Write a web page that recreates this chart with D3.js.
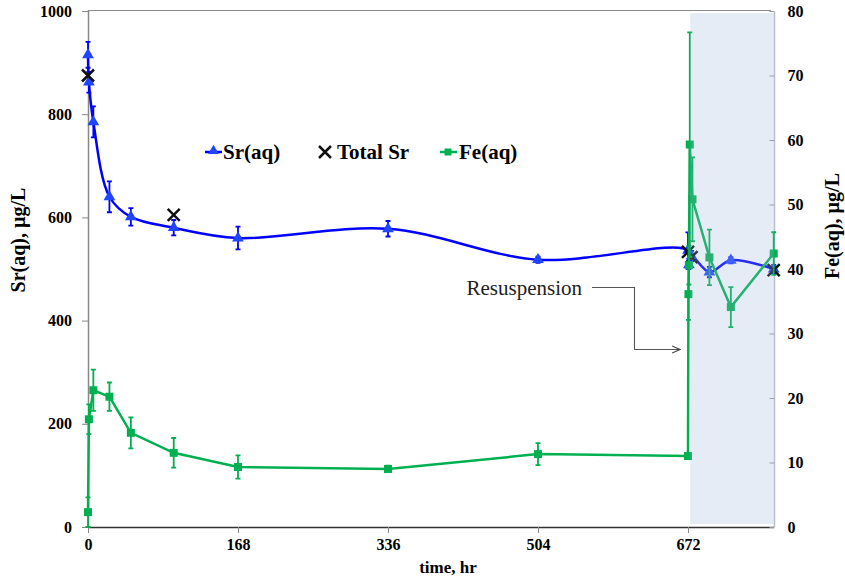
<!DOCTYPE html>
<html>
<head>
<meta charset="utf-8">
<script src="https://cdn.jsdelivr.net/npm/d3@7"></script>
<style>
  body { margin: 0; background: #fff; }
  svg text { font-family: "Times New Roman", "Liberation Serif", "DejaVu Serif", serif; }
</style>
</head>
<body>
<div id="chart"></div>
<script>
// Sr(aq), left axis
const srTime = [0, 1, 6, 24, 48, 96, 168, 336, 504, 672, 673, 676, 696, 720, 768]
const srVal = [915, 862, 785, 640, 601, 580, 560, 578, 518, 536, 508, 525, 494, 517, 500]
const srErr = [25, 20, 30, 30, 17, 15, 22, 15, 6, 35, 8, 10, 10, 6, 8]

// Total Sr, left axis
const totTime = [0, 96, 672, 676, 768]
const totVal = [875, 605, 533, 523, 498]

// Fe(aq), right axis
const feTime = [0, 1, 6, 24, 48, 96, 168, 336, 504, 672, 672.5, 673, 674, 677, 696, 720, 768]
const feVal = [2.3, 16.7, 21.2, 20.2, 14.6, 11.5, 9.3, 9.0, 11.3, 11.0, 36.1, 40.6, 59.3, 50.8, 41.8, 34.1, 42.4]
const feErr = [2.3, 2.3, 3.2, 2.2, 2.4, 2.3, 1.8, 0.5, 1.7, 0.4, 4, 3, 17.4, 6.5, 4.3, 3.1, 3.3]

const xTicks = [0, 168, 336, 504, 672]
const leftTicks = [0, 200, 400, 600, 800, 1000]
const rightTicks = [0, 10, 20, 30, 40, 50, 60, 70, 80]

const width = 845
const height = 579
const blue = "#0000ff"
const blueMark = "#1f45ff"
const green = "#00b050"
const serif = "'Times New Roman', 'Liberation Serif', 'DejaVu Serif', serif"

const svg = d3.select("#chart").append("svg")
  .attr("width", width)
  .attr("height", height)
  .attr("font-family", serif)

const x = d3.scaleLinear().domain([0, 768]).range([88, 773.7])
const yL = d3.scaleLinear().domain([0, 1000]).range([527, 11])
const yR = d3.scaleLinear().domain([0, 80]).range([527, 11])

// frame
svg.append("line").attr("x1", 88).attr("x2", 771).attr("y1", 10.5).attr("y2", 10.5)
  .attr("stroke", "#8a8a8a").attr("stroke-width", 1.2)
svg.append("line").attr("x1", 774.5).attr("x2", 774.5).attr("y1", 12).attr("y2", 527)
  .attr("stroke", "#b8bfcc").attr("stroke-width", 1.5)

// axes
const xAxis = svg.append("g")
  .attr("transform", "translate(0,527)")
  .call(d3.axisBottom(x).tickValues(xTicks).tickSize(6).tickPadding(6).tickFormat(d3.format("d")))
xAxis.select(".domain").attr("d", "M88,0.5H774").attr("stroke", "#333").attr("stroke-width", 1.5)
xAxis.selectAll(".tick line").attr("stroke", "#888")

const yAxisL = svg.append("g")
  .attr("transform", "translate(88,0)")
  .call(d3.axisLeft(yL).tickValues(leftTicks).tickSize(6).tickPadding(10).tickFormat(d3.format("d")))
yAxisL.select(".domain").attr("d", "M0.5,10V527").attr("stroke", "#888").attr("stroke-width", 1.5)
yAxisL.selectAll(".tick line").attr("stroke", "#888")

const yAxisR = svg.append("g")
  .attr("transform", "translate(774.5,0)")
  .call(d3.axisRight(yR).tickValues(rightTicks).tickSize(0).tickPadding(13).tickFormat(d3.format("d")))
yAxisR.select(".domain").remove()
yAxisR.selectAll(".tick").append("line").attr("x1", -5).attr("x2", 0).attr("stroke", "#999")

svg.selectAll("g").attr("font-family", serif)
svg.selectAll(".tick text")
  .attr("font-size", 16)
  .attr("font-weight", "bold")
  .attr("fill", "#000")

// axis titles
svg.append("text")
  .attr("transform", "translate(25,240) rotate(-90)")
  .attr("text-anchor", "middle")
  .attr("font-size", 20).attr("font-weight", "bold")
  .text("Sr(aq), µg/L")
svg.append("text")
  .attr("transform", "translate(839,226) rotate(-90)")
  .attr("text-anchor", "middle")
  .attr("font-size", 20).attr("font-weight", "bold")
  .text("Fe(aq), µg/L")
svg.append("text")
  .attr("x", 448).attr("y", 573)
  .attr("text-anchor", "middle")
  .attr("font-size", 17).attr("font-weight", "bold")
  .text("time, hr")

const sr = srTime.map((t, i) => ({ t: t, v: srVal[i], e: srErr[i] }))
const tot = totTime.map((t, i) => ({ t: t, v: totVal[i] }))
const fe = feTime.map((t, i) => ({ t: t, v: feVal[i], e: feErr[i] }))

// Sr(aq)
const srG = svg.append("g")
srG.append("path")
  .datum(sr)
  .attr("fill", "none")
  .attr("stroke", blue)
  .attr("stroke-width", 2.5)
  .attr("d", d3.line().x(d => x(d.t)).y(d => yL(d.v)).curve(d3.curveCatmullRom.alpha(0.5)))
srG.selectAll(".err")
  .data(sr)
  .enter()
  .append("path")
  .attr("fill", "none")
  .attr("stroke", blue)
  .attr("stroke-width", 1.8)
  .attr("d", d => {
    const cx = x(d.t), y0 = yL(d.v - d.e), y1 = yL(d.v + d.e)
    return `M${cx},${y0}V${y1}M${cx - 2.5},${y0}H${cx + 2.5}M${cx - 2.5},${y1}H${cx + 2.5}`
  })
srG.selectAll(".pt")
  .data(sr)
  .enter()
  .append("path")
  .attr("transform", d => `translate(${x(d.t)},${yL(d.v)})`)
  .attr("d", d3.symbol().type(d3.symbolTriangle).size(60))
  .attr("fill", blueMark)

// Total Sr
svg.append("g").selectAll("path")
  .data(tot)
  .enter()
  .append("path")
  .attr("transform", d => `translate(${x(d.t)},${yL(d.v)})`)
  .attr("d", "M-6,-6L6,6M-6,6L6,-6")
  .attr("stroke", "#111")
  .attr("stroke-width", 2.5)

// Fe(aq)
const feG = svg.append("g")
feG.append("path")
  .datum(fe)
  .attr("fill", "none")
  .attr("stroke", green)
  .attr("stroke-width", 2.5)
  .attr("d", d3.line().x(d => x(d.t)).y(d => yR(d.v)))
feG.selectAll(".err")
  .data(fe)
  .enter()
  .append("path")
  .attr("fill", "none")
  .attr("stroke", green)
  .attr("stroke-width", 1.8)
  .attr("d", d => {
    const cx = x(d.t), y0 = yR(Math.max(0, d.v - d.e)), y1 = yR(d.v + d.e)
    return `M${cx},${y0}V${y1}M${cx - 2.5},${y0}H${cx + 2.5}M${cx - 2.5},${y1}H${cx + 2.5}`
  })
feG.selectAll(".pt")
  .data(fe)
  .enter()
  .append("rect")
  .attr("x", d => x(d.t) - 4)
  .attr("y", d => yR(d.v) - 4)
  .attr("width", 8)
  .attr("height", 8)
  .attr("fill", green)

// resuspension shading (laid over the series)
svg.append("rect")
  .attr("x", x(674.5))
  .attr("y", 13)
  .attr("width", x(768) - x(674.5))
  .attr("height", 511)
  .attr("fill", "rgb(151,179,219)")
  .attr("fill-opacity", 0.25)

// annotation
svg.append("defs").append("marker")
  .attr("id", "arr")
  .attr("viewBox", "0 0 10 10")
  .attr("refX", 9).attr("refY", 5)
  .attr("markerWidth", 8).attr("markerHeight", 8)
  .attr("orient", "auto")
  .append("path")
  .attr("d", "M0,1L9,5L0,9")
  .attr("fill", "none")
  .attr("stroke", "#444")
  .attr("stroke-width", 1.2)
svg.append("text")
  .attr("x", 582).attr("y", 295)
  .attr("text-anchor", "end")
  .attr("font-size", 21)
  .attr("fill", "#222")
  .text("Resuspension")
svg.append("path")
  .attr("d", "M592,287.5H634.5V349.5H680")
  .attr("fill", "none")
  .attr("stroke", "#555")
  .attr("stroke-width", 1.1)
  .attr("marker-end", "url(#arr)")

// legend
const lg = svg.append("g")
lg.append("line").attr("x1", 205).attr("x2", 222).attr("y1", 152).attr("y2", 152)
  .attr("stroke", blue).attr("stroke-width", 2.5)
lg.append("path").attr("transform", "translate(213.5,151)")
  .attr("d", d3.symbol().type(d3.symbolTriangle).size(50)).attr("fill", blueMark)
lg.append("text").attr("x", 223).attr("y", 159).text("Sr(aq)")
lg.append("path").attr("transform", "translate(325,152)")
  .attr("d", "M-6,-6L6,6M-6,6L6,-6").attr("stroke", "#111").attr("stroke-width", 2.5)
lg.append("text").attr("x", 337).attr("y", 159).text("Total Sr")
lg.append("line").attr("x1", 440).attr("x2", 457).attr("y1", 152).attr("y2", 152)
  .attr("stroke", green).attr("stroke-width", 2.5)
lg.append("rect").attr("x", 444.5).attr("y", 148.5).attr("width", 7).attr("height", 7).attr("fill", green)
lg.append("text").attr("x", 459).attr("y", 159).text("Fe(aq)")
lg.selectAll("text").attr("font-size", 21).attr("font-weight", "bold")
</script>
</body>
</html>
